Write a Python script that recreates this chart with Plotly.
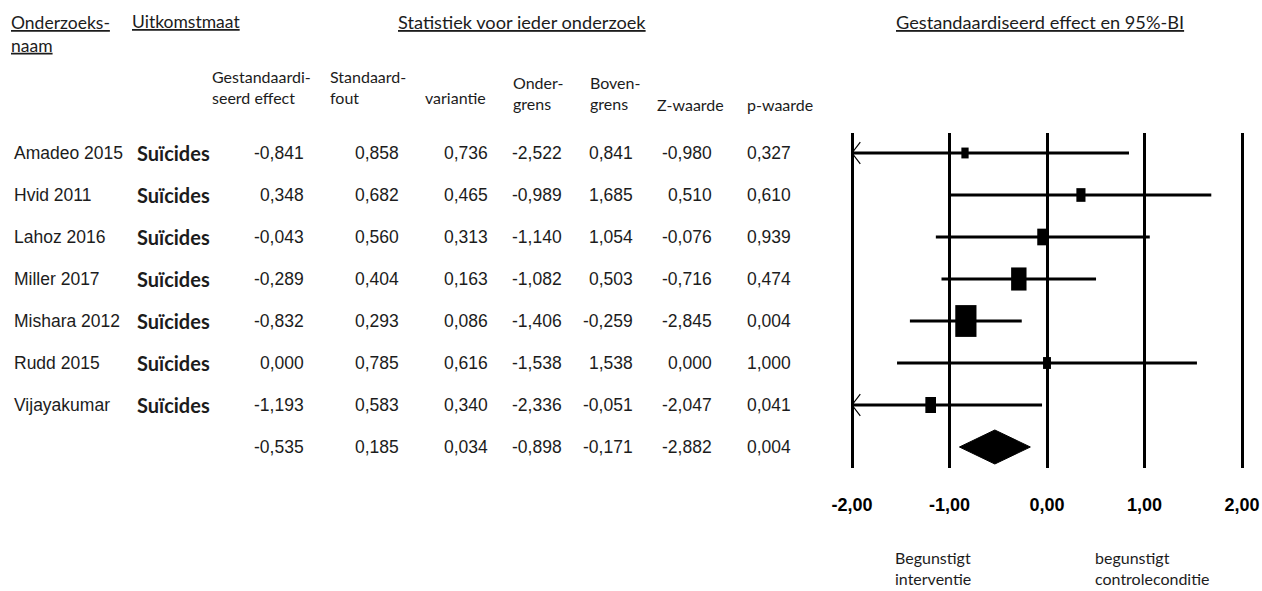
import math
import plotly.graph_objects as go

W, H = 1262, 591

# ---------------- data ----------------
studies = ["Amadeo 2015", "Hvid 2011", "Lahoz 2016", "Miller 2017",
           "Mishara 2012", "Rudd 2015", "Vijayakumar"]
outcome = ["Suïcides"] * 7
effect = [-0.841, 0.348, -0.043, -0.289, -0.832, 0.000, -1.193]
std_err = [0.858, 0.682, 0.560, 0.404, 0.293, 0.785, 0.583]
variance = [0.736, 0.465, 0.313, 0.163, 0.086, 0.616, 0.340]
lower = [-2.522, -0.989, -1.140, -1.082, -1.406, -1.538, -2.336]
upper = [0.841, 1.685, 1.054, 0.503, -0.259, 1.538, -0.051]
z_value = [-0.980, 0.510, -0.076, -0.716, -2.845, 0.000, -2.047]
p_value = [0.327, 0.610, 0.939, 0.474, 0.004, 1.000, 0.041]

summary = {"effect": -0.535, "se": 0.185, "var": 0.034, "lower": -0.898,
           "upper": -0.171, "z": -2.882, "p": 0.004}

tick_vals = [-2, -1, 0, 1, 2]
tick_text = ["-2,00", "-1,00", "0,00", "1,00", "2,00"]

# ---------------- style ----------------
NARROW = "Liberation Sans, Arial, sans-serif"
SANS = "Lato, Open Sans, sans-serif"
INK = "#1c1c1c"
X_MIN, X_MAX = tick_vals[0], tick_vals[-1]
BOX_K, BOX_ASPECT = 58.0, 1.5
NUM_SIZE = 17.5


def px(p):
    return p / W


def py(p):
    return 1 - p / H


def fmt(v):
    return f"{v:.3f}".replace(".", ",")


fig = go.Figure()

n = len(studies)
rows = list(range(n))
sum_row = n

# CI lines (clipped to axis) and arrows
for i in rows:
    lo = max(lower[i], X_MIN)
    hi = min(upper[i], X_MAX)
    fig.add_trace(go.Scatter(x=[lo, hi], y=[i, i], mode="lines",
                             line=dict(color="black", width=3.2),
                             hoverinfo="skip", showlegend=False))
    if lower[i] < X_MIN:
        fig.add_trace(go.Scatter(x=[X_MIN + 0.085, X_MIN, X_MIN + 0.085],
                                 y=[i - 0.26, i, i + 0.26], mode="lines",
                                 line=dict(color="black", width=1.2),
                                 hoverinfo="skip", showlegend=False))

# weight boxes (area proportional to inverse variance)
for i in rows:
    area = BOX_K / variance[i]
    w = math.sqrt(area / BOX_ASPECT)
    h = w * BOX_ASPECT
    fig.add_shape(type="rect", xref="x", yref="y",
                  xsizemode="pixel", ysizemode="pixel",
                  xanchor=effect[i], yanchor=i,
                  x0=-w / 2, x1=w / 2, y0=-h / 2, y1=h / 2,
                  fillcolor="black", line=dict(width=0), layer="above")

# summary diamond
dh = 0.405
fig.add_trace(go.Scatter(
    x=[summary["lower"], summary["effect"], summary["upper"], summary["effect"], summary["lower"]],
    y=[sum_row, sum_row - dh, sum_row, sum_row + dh, sum_row],
    mode="lines", fill="toself", fillcolor="black",
    line=dict(color="black", width=1), hoverinfo="skip", showlegend=False))

annotations = []


def ann(text, x, y, xanchor="left", yref="paper", size=17, family=SANS,
        color=INK, weight="normal", align="left", yanchor="middle"):
    annotations.append(dict(text=text, x=x, y=y, xref="paper", yref=yref,
                            xanchor=xanchor, yanchor=yanchor, showarrow=False,
                            align=align, borderpad=0,
                            font=dict(family=family, size=size, color=color,
                                      weight=weight)))


# headers
ann("<u>Onderzoeks-</u><br><u>naam</u>", px(10), py(33.5), size=17.5)
ann("<u>Uitkomstmaat</u>", px(131), py(22), size=17.5)
ann("<u>Statistiek voor ieder onderzoek</u>", px(522), py(22), xanchor="center", size=18.2)
ann("<u>Gestandaardiseerd effect en 95%-BI</u>", px(1040), py(22), xanchor="center", size=18.2)

# column sub-headers
ann("Gestandaardi-<br>seerd effect", px(211), py(87.5), size=16)
ann("Standaard-<br>fout", px(329), py(87.5), size=16)
ann("variantie", px(424), py(98), size=16)
ann("Onder-<br>grens", px(512), py(93), size=16)
ann("Boven-<br>grens", px(589), py(93), size=16)
ann("Z-waarde", px(656), py(105), size=16)
ann("p-waarde", px(746), py(105), size=16)

# table body
for i in rows:
    ann(studies[i], px(13), i, yref="y", family=NARROW, size=NUM_SIZE)
    ann(outcome[i], px(136), i, yref="y", family=SANS, size=20, weight="bold")

col_right = [305, 400, 489, 563, 634, 713, 792]
columns = [effect, std_err, variance, lower, upper, z_value, p_value]
sum_vals = [summary["effect"], summary["se"], summary["var"], summary["lower"],
            summary["upper"], summary["z"], summary["p"]]
for c, xr in enumerate(col_right):
    for i in rows:
        ann(fmt(columns[c][i]), px(xr), i, xanchor="right", yref="y",
            family=NARROW, size=NUM_SIZE)
    ann(fmt(sum_vals[c]), px(xr), sum_row, xanchor="right", yref="y",
        family=NARROW, size=NUM_SIZE)

# favour labels
ann("Begunstigt<br>interventie", px(894), py(568), size=16)
ann("begunstigt<br>controleconditie", px(1094), py(568), size=16)

fig.update_layout(
    width=W, height=H,
    margin=dict(l=0, r=0, t=0, b=0),
    paper_bgcolor="white", plot_bgcolor="white",
    showlegend=False,
    annotations=annotations,
    xaxis=dict(domain=[px(832), 1.0],
               range=[X_MIN - 20 / 97.5, X_MAX + 20 / 97.5],
               tickvals=tick_vals, ticktext=tick_text,
               showgrid=True, gridcolor="black", gridwidth=3,
               zeroline=False, showline=False,
               ticks="outside", ticklen=20, tickcolor="rgba(0,0,0,0)",
               tickfont=dict(family=NARROW, size=18, color="black", weight="bold"),
               ticklabeloverflow="allow",
               fixedrange=True),
    yaxis=dict(domain=[py(468), py(133)],
               range=[sum_row + 0.5, -0.476],
               showgrid=False, zeroline=False, showline=False,
               showticklabels=False, ticks="", fixedrange=True),
)

fig.write_html(
    "out.html",
    config={"displayModeBar": False},
    post_script="document.body.style.margin='0px';"
                "document.body.style.overflow='hidden';",
)
